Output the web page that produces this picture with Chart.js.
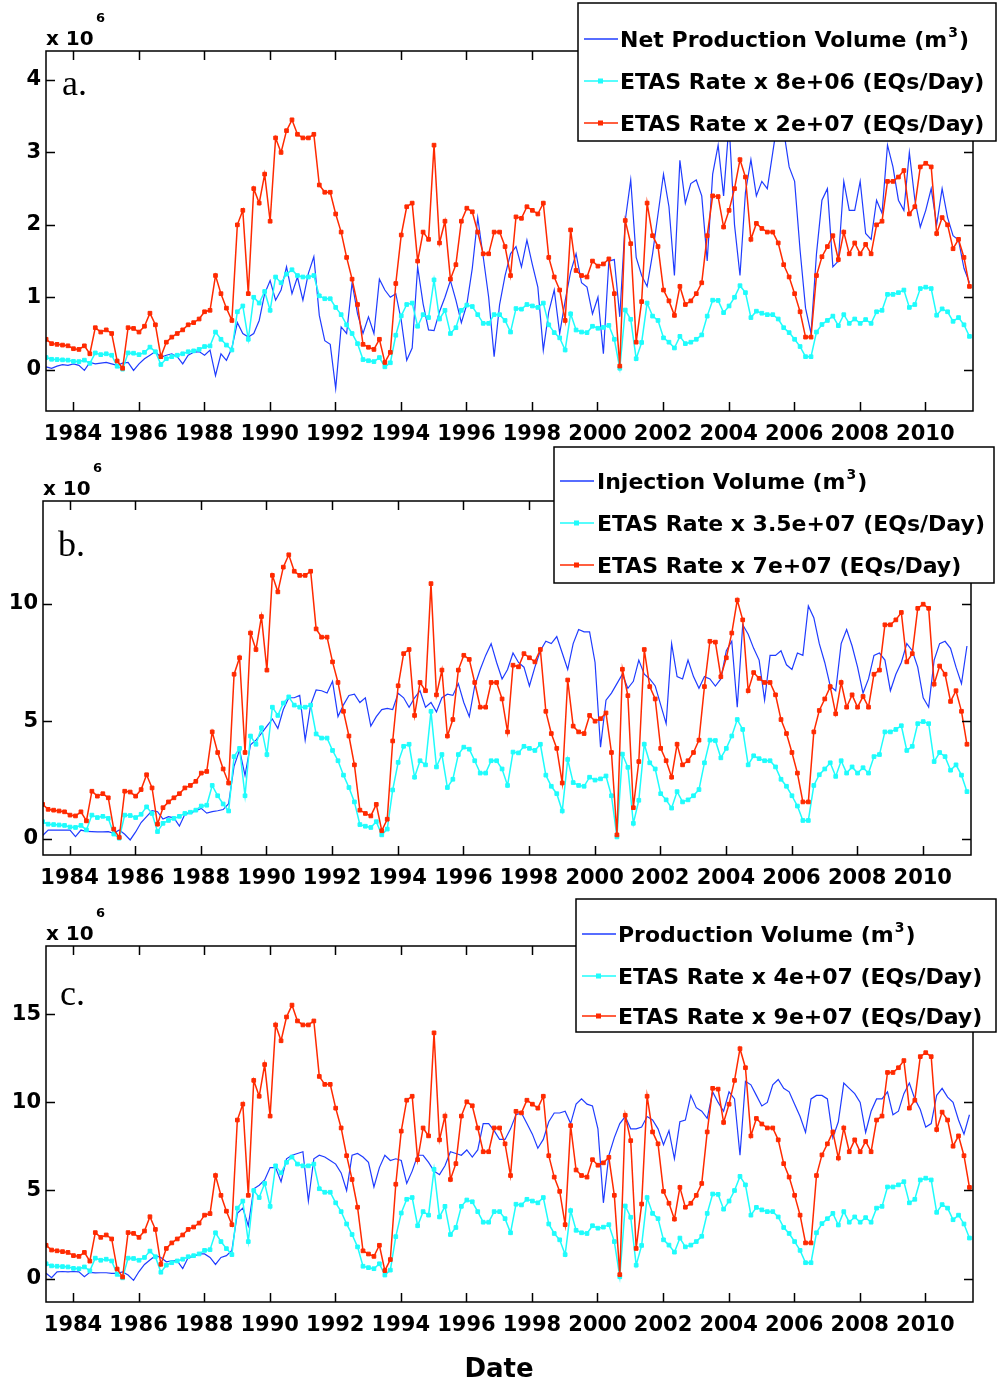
<!DOCTYPE html>
<html>
<head>
<meta charset="utf-8">
<script src="https://cdn.jsdelivr.net/npm/chart.js@4.4.1/dist/chart.umd.min.js"></script>
<style>
    body { margin: 0; background: #fff; width: 997px; height: 1383px; overflow: hidden; position: relative; }
    .panel { position: absolute; left: 0; width: 997px; }
</style>
</head>
<body>
<div class="panel" style="top:0;height:445px"><canvas id="chartA" width="997" height="445"></canvas></div>
<div class="panel" style="top:445px;height:445px"><canvas id="chartB" width="997" height="445"></canvas></div>
<div class="panel" style="top:890px;height:493px"><canvas id="chartC" width="997" height="493"></canvas></div>
<script>
// Samples every two months, first one at 1983.18 (decimal year)
const firstDate = 1983.18
const stepYears = 2 / 12

const yearTicks = [1984, 1986, 1988, 1990, 1992, 1994, 1996, 1998, 2000, 2002, 2004, 2006, 2008, 2010]
const ticksA = [0, 1, 2, 3, 4]
const ticksB = [0, 5, 10]
const ticksC = [0, 5, 10, 15]

// ETAS seismicity rate (EQs/Day)
const etasRate = [
    0.021, 0.018, 0.0175, 0.017, 0.0165,
    0.0145, 0.014, 0.0165, 0.011, 0.029, 0.026,
    0.0275, 0.025, 0.006, 0.001, 0.029, 0.0285,
    0.026, 0.030, 0.039, 0.031, 0.009, 0.019,
    0.0225, 0.025, 0.0275, 0.031, 0.0325, 0.035,
    0.040, 0.041, 0.065, 0.0525, 0.0425, 0.034,
    0.100, 0.110, 0.0525, 0.125, 0.115, 0.135,
    0.1025, 0.160, 0.150, 0.165, 0.1725, 0.1625,
    0.160, 0.160, 0.1625, 0.1275, 0.1225, 0.1225,
    0.1075, 0.095, 0.0775, 0.0625, 0.045, 0.0175,
    0.0155, 0.014, 0.021, 0.005, 0.012, 0.0595,
    0.093, 0.1125, 0.115, 0.075, 0.095, 0.090,
    0.155, 0.0875, 0.1025, 0.0625, 0.0725, 0.1025,
    0.1115, 0.109, 0.095, 0.080, 0.080, 0.095,
    0.095, 0.085, 0.065, 0.1055, 0.1045, 0.1125,
    0.110, 0.1075, 0.115, 0.0775, 0.064, 0.055,
    0.034, 0.0965, 0.0685, 0.065, 0.064, 0.075,
    0.0715, 0.073, 0.0765, 0.0525, 0.0025, 0.103,
    0.087, 0.019, 0.047, 0.115, 0.0925, 0.085,
    0.055, 0.0475, 0.0375, 0.0575, 0.045, 0.0475,
    0.0525, 0.060, 0.0925, 0.120, 0.1195, 0.0985,
    0.110, 0.125, 0.145, 0.133, 0.090, 0.101,
    0.0975, 0.095, 0.095, 0.0875, 0.0725, 0.064,
    0.0525, 0.040, 0.0225, 0.0225, 0.065, 0.078,
    0.085, 0.0925, 0.076, 0.095, 0.080, 0.0875,
    0.080, 0.0865, 0.080, 0.100, 0.1025, 0.130,
    0.130, 0.133, 0.1375, 0.1075, 0.1125, 0.140,
    0.1425, 0.140, 0.094, 0.105, 0.100, 0.0835,
    0.090, 0.0775, 0.0575
]

// Volumes in millions of m3
const netProduction = [
    0.04, 0.02, 0.05, 0.07, 0.06,
    0.08, 0.06, -0.01, 0.10, 0.08, 0.09,
    0.10, 0.08, 0.06, 0.09, 0.10, -0.01,
    0.08, 0.15, 0.20, 0.25, 0.17, 0.20,
    0.22, 0.18, 0.08, 0.20, 0.24, 0.25,
    0.20, 0.27, -0.08, 0.22, 0.13, 0.30,
    0.65, 0.50, 0.45, 0.50, 0.68, 1.05,
    1.23, 0.96, 1.10, 1.42, 1.05, 1.28,
    0.96, 1.33, 1.56, 0.75, 0.40, 0.35,
    -0.26, 0.59, 0.50, 1.20, 0.77, 0.50,
    0.73, 0.50, 1.25, 1.10, 1.00, 1.05,
    0.68, 0.13, 0.30, 1.42, 0.91, 0.55,
    0.54, 0.80, 1.00, 1.23, 0.96, 0.65,
    0.90, 1.40, 2.10, 1.56, 1.00, 0.18,
    0.90, 1.30, 1.60, 1.70, 1.42, 1.79,
    1.45, 1.14, 0.27, 0.80, 1.10, 0.50,
    0.95, 1.35, 1.60, 1.20, 1.14, 0.77,
    1.00, 0.22, 1.50, 1.52, 0.73, 2.06,
    2.62, 1.55, 1.30, 1.15, 1.60, 2.15,
    2.70, 2.25, 1.30, 2.89, 2.30, 2.57,
    2.62, 2.40, 1.50, 2.70, 3.10, 2.40,
    3.40, 2.00, 1.30, 2.45, 2.90, 2.40,
    2.60, 2.50, 3.00, 3.50, 3.30, 2.80,
    2.60, 1.65, 0.85, 0.50, 1.60, 2.34,
    2.50, 1.42, 1.50, 2.60, 2.20, 2.20,
    2.60, 1.88, 1.80, 2.34, 2.16, 3.10,
    2.80, 2.34, 2.20, 3.00, 2.35, 1.97,
    2.20, 2.50, 2.00, 2.50, 2.10, 1.85,
    1.79, 1.40, 1.20
]

const injection = [
    0.15, 0.38, 0.38, 0.38, 0.38,
    0.38, 0.10, 0.38, 0.32, 0.31, 0.30,
    0.30, 0.31, 0.24, 0.38, 0.20, -0.04,
    0.30, 0.70, 0.95, 1.20, 1.16, 0.85,
    0.95, 0.90, 0.55, 1.05, 1.10, 1.20,
    1.30, 1.10, 1.16, 1.20, 1.25, 1.50,
    3.10, 3.78, 2.70, 4.00, 4.20, 4.49,
    4.80, 5.10, 4.70, 5.50, 6.00, 6.00,
    6.10, 4.20, 5.70, 6.33, 6.30, 6.20,
    6.70, 5.20, 5.70, 6.10, 6.15, 5.80,
    6.00, 4.80, 5.20, 5.50, 5.55, 5.50,
    6.19, 6.00, 5.60, 6.00, 6.30, 5.60,
    5.80, 5.40, 6.00, 6.15, 6.10, 6.60,
    5.80, 5.20, 6.50, 7.20, 7.80, 8.30,
    7.50, 6.80, 7.20, 7.90, 7.50, 7.30,
    6.50, 7.30, 8.00, 8.40, 8.30, 8.60,
    7.90, 7.20, 8.30, 8.90, 8.80, 8.80,
    7.50, 3.90, 5.90, 6.20, 6.60, 7.00,
    6.40, 6.70, 7.60, 7.00, 6.80, 6.50,
    5.70, 4.90, 8.30, 6.90, 6.80, 7.60,
    6.90, 6.40, 6.90, 6.80, 6.50, 6.80,
    8.00, 8.40, 5.60, 9.10, 8.70, 8.10,
    7.60, 5.90, 7.80, 7.80, 8.00, 7.40,
    7.20, 7.90, 7.80, 9.90, 9.40, 8.30,
    7.50, 6.50, 6.30, 8.30, 8.90, 8.20,
    7.30, 6.20, 6.80, 7.80, 7.90, 7.60,
    6.30, 7.00, 7.50, 8.30, 8.00, 7.30,
    6.00, 5.60, 7.60, 8.30, 8.40, 8.10,
    7.30, 6.60, 8.20
]

const production = [
    0.30, 0.05, 0.38, 0.40, 0.38,
    0.40, 0.38, 0.10, 0.35, 0.32, 0.33,
    0.33, 0.30, 0.30, 0.38, 0.20, -0.10,
    0.40, 0.80, 1.05, 1.30, 1.20, 0.95,
    1.00, 1.00, 0.57, 1.20, 1.25, 1.40,
    1.40, 1.20, 0.80, 1.20, 1.30, 1.60,
    3.70, 4.00, 3.00, 5.10, 5.30, 5.60,
    6.30, 6.30, 5.50, 6.80, 7.00, 7.10,
    7.20, 4.40, 6.80, 7.00, 6.90, 6.70,
    6.50, 6.00, 5.00, 7.00, 7.10, 6.90,
    6.60, 5.20, 6.30, 7.00, 6.70, 6.80,
    6.70, 5.40, 6.10, 7.00, 7.00, 6.60,
    6.10, 5.90, 6.40, 7.20, 7.10, 7.00,
    7.30, 6.90, 7.30, 8.80, 8.80, 8.40,
    7.90, 7.90, 8.50, 9.30, 9.40, 8.80,
    8.20, 7.40, 7.90, 8.90, 9.40, 9.40,
    9.50, 8.80, 9.90, 10.20, 9.90, 9.80,
    8.50, 4.30, 7.00, 8.00, 8.80, 9.20,
    8.50, 8.50, 8.60, 9.20, 9.00, 8.50,
    7.60, 8.40, 6.80, 8.90, 9.00, 10.40,
    9.70, 9.50, 9.10, 10.60, 10.00, 9.50,
    10.60, 10.20, 7.00, 11.20, 11.00, 10.40,
    9.80, 10.00, 11.00, 11.30, 10.80, 10.60,
    9.90, 9.20, 8.30, 10.20, 10.40, 10.40,
    10.20, 8.00, 8.90, 11.10, 10.80, 10.50,
    10.00, 8.30, 9.50, 10.20, 10.20, 10.60,
    9.30, 9.50, 10.50, 11.10, 10.20, 9.60,
    8.60, 8.80, 10.40, 10.80, 10.30, 10.00,
    9.00, 8.20, 9.30
]

const dates = etasRate.map((_, i) => firstDate + i * stepYears)
const toPoints = vals => vals.map((v, i) => ({ x: dates[i], y: v }))

const blue = "#1f3cff"
const cyan = "#1ffcfc"
const red = "#ff2a00"
const tickFont = { family: "DejaVu Sans", weight: "bold", size: 21 }

// MATLAB-like box: inward ticks on four sides, exponent, panel letter, legend
const matlabFrame = {
    id: "matlabFrame",
    afterDraw(chart, args, opts) {
        const { ctx, chartArea: a, scales } = chart
        ctx.save()
        ctx.strokeStyle = "#000"
        ctx.lineWidth = 1.5
        ctx.strokeRect(a.left, a.top, a.right - a.left, a.bottom - a.top)

        const tl = 9
        ctx.beginPath()
        scales.x.ticks.forEach(t => {
            const px = Math.round(scales.x.getPixelForValue(t.value)) + 0.5
            ctx.moveTo(px, a.bottom); ctx.lineTo(px, a.bottom - tl)
            ctx.moveTo(px, a.top); ctx.lineTo(px, a.top + tl)
        })
        scales.y.ticks.forEach(t => {
            const py = Math.round(scales.y.getPixelForValue(t.value)) + 0.5
            ctx.moveTo(a.left, py); ctx.lineTo(a.left + tl, py)
            ctx.moveTo(a.right, py); ctx.lineTo(a.right - tl, py)
        })
        ctx.stroke()

        ctx.fillStyle = "#000"
        ctx.textBaseline = "alphabetic"
        ctx.textAlign = "left"
        ctx.font = "bold 20px 'DejaVu Sans'"
        ctx.fillText("x 10", a.left, a.top - 6)
        ctx.font = "bold 13px 'DejaVu Sans'"
        ctx.fillText("6", a.left + 50, a.top - 29)

        ctx.font = "36px 'Liberation Serif'"
        ctx.fillText(opts.letter, a.left + opts.letterDx, a.top + opts.letterDy)

        if (opts.xTitle) {
            ctx.font = "bold 26px 'DejaVu Sans'"
            ctx.textAlign = "center"
            ctx.fillText(opts.xTitle, opts.xTitleX, opts.xTitleY)
            ctx.textAlign = "left"
        }

        // legend box
        const lg = opts.legend
        ctx.fillStyle = "#fff"
        ctx.fillRect(lg.left, lg.top, lg.width, lg.height)
        ctx.strokeStyle = "#000"
        ctx.lineWidth = 1.5
        ctx.strokeRect(lg.left, lg.top, lg.width, lg.height)
        chart.data.datasets.forEach((ds, i) => {
            const y = lg.top + lg.rows[i]
            ctx.strokeStyle = ds.borderColor
            ctx.lineWidth = 1.5
            ctx.beginPath()
            ctx.moveTo(lg.left + 6, y)
            ctx.lineTo(lg.left + 40, y)
            ctx.stroke()
            if (ds.pointRadius > 0) {
                ctx.fillStyle = ds.borderColor
                ctx.fillRect(lg.left + 20, y - 2.5, 5, 5)
            }
            ctx.fillStyle = "#000"
            ctx.font = "bold 22px 'DejaVu Sans'"
            const parts = ds.label.split("³")
            let x = lg.left + lg.textDx
            ctx.fillText(parts[0], x, y + 8)
            if (parts.length > 1) {
                x += ctx.measureText(parts[0]).width
                ctx.font = "bold 14px 'DejaVu Sans'"
                ctx.fillText("3", x + 1, y - 2)
                x += ctx.measureText("3").width + 2
                ctx.font = "bold 22px 'DejaVu Sans'"
                ctx.fillText(parts[1], x, y + 8)
            }
        })
        ctx.restore()
    }
}

function buildPanel(id, cfg) {
    const lineDs = (label, data, color, order) => ({
        label,
        data,
        borderColor: color,
        backgroundColor: color,
        borderWidth: 1.5,
        pointStyle: "rect",
        pointRadius: 2.6,
        pointBorderWidth: 1,
        pointBackgroundColor: color,
        pointBorderColor: color,
        tension: 0,
        order
    })
    return new Chart(document.getElementById(id), {
        type: "line",
        data: {
            datasets: [
                {
                    label: cfg.volumeLabel,
                    data: toPoints(cfg.volume),
                    borderColor: blue,
                    backgroundColor: blue,
                    borderWidth: 1.2,
                    pointRadius: 0,
                    tension: 0,
                    order: 3
                },
                lineDs(cfg.etasLabels[0], toPoints(etasRate.map(r => r * cfg.etasScale[0] / 1e6)), cyan, 2),
                lineDs(cfg.etasLabels[1], toPoints(etasRate.map(r => r * cfg.etasScale[1] / 1e6)), red, 1)
            ]
        },
        options: {
            responsive: false,
            animation: false,
            events: [],
            layout: { padding: { top: cfg.top, right: cfg.right, left: 0, bottom: 0 } },
            plugins: {
                legend: { display: false },
                tooltip: { enabled: false },
                matlabFrame: cfg.frame
            },
            scales: {
                x: {
                    type: "linear",
                    min: cfg.xRange[0],
                    max: cfg.xRange[1],
                    afterBuildTicks: s => { s.ticks = yearTicks.map(v => ({ value: v })) },
                    afterFit: s => { s.height = cfg.xAxisHeight },
                    grid: { display: false, drawTicks: false },
                    border: { display: false },
                    ticks: {
                        padding: 11,
                        font: tickFont,
                        color: "#000",
                        maxRotation: 0,
                        autoSkip: false,
                        callback: v => String(v)
                    }
                },
                y: {
                    min: cfg.yRange[0],
                    max: cfg.yRange[1],
                    afterBuildTicks: s => { s.ticks = cfg.yTicks.map(v => ({ value: v })) },
                    afterFit: s => { s.width = cfg.yAxisWidth },
                    grid: { display: false, drawTicks: false },
                    border: { display: false },
                    ticks: {
                        padding: 5,
                        font: tickFont,
                        color: "#000",
                        callback: v => String(v)
                    }
                }
            }
        },
        plugins: [matlabFrame]
    })
}

buildPanel("chartA", {
    volume: netProduction,
    volumeLabel: "Net Production Volume (m³)",
    etasScale: [8e6, 2e7],
    etasLabels: ["ETAS Rate x 8e+06 (EQs/Day)", "ETAS Rate x 2e+07 (EQs/Day)"],
    xRange: [1983.176, 2011.455],
    yRange: [-0.57, 4.40],
    yTicks: ticksA,
    top: 51, right: 24, yAxisWidth: 46, xAxisHeight: 34,
    frame: {
        letter: "a.", letterDx: 16, letterDy: 44,
        legend: { left: 578, top: 3, width: 418, height: 138, rows: [36, 78, 120], textDx: 42 }
    }
})

buildPanel("chartB", {
    volume: injection,
    volumeLabel: "Injection Volume (m³)",
    etasScale: [3.5e7, 7e7],
    etasLabels: ["ETAS Rate x 3.5e+07 (EQs/Day)", "ETAS Rate x 7e+07 (EQs/Day)"],
    xRange: [1983.19, 2011.47],
    yRange: [-0.68, 14.36],
    yTicks: ticksB,
    top: 56, right: 26, yAxisWidth: 43, xAxisHeight: 35,
    frame: {
        letter: "b.", letterDx: 15, letterDy: 55,
        legend: { left: 554, top: 2, width: 440, height: 136, rows: [34, 76, 118], textDx: 43 }
    }
})

buildPanel("chartC", {
    volume: production,
    volumeLabel: "Production Volume (m³)",
    etasScale: [4e7, 9e7],
    etasLabels: ["ETAS Rate x 4e+07 (EQs/Day)", "ETAS Rate x 9e+07 (EQs/Day)"],
    xRange: [1983.176, 2011.455],
    yRange: [-1.33, 18.88],
    yTicks: ticksC,
    top: 56, right: 24, yAxisWidth: 46, xAxisHeight: 81,
    frame: {
        letter: "c.", letterDx: 14, letterDy: 59,
        xTitle: "Date", xTitleX: 499, xTitleY: 487,
        legend: { left: 576, top: 9, width: 420, height: 133, rows: [35, 77, 117], textDx: 42 }
    }
})
</script>
</body>
</html>
